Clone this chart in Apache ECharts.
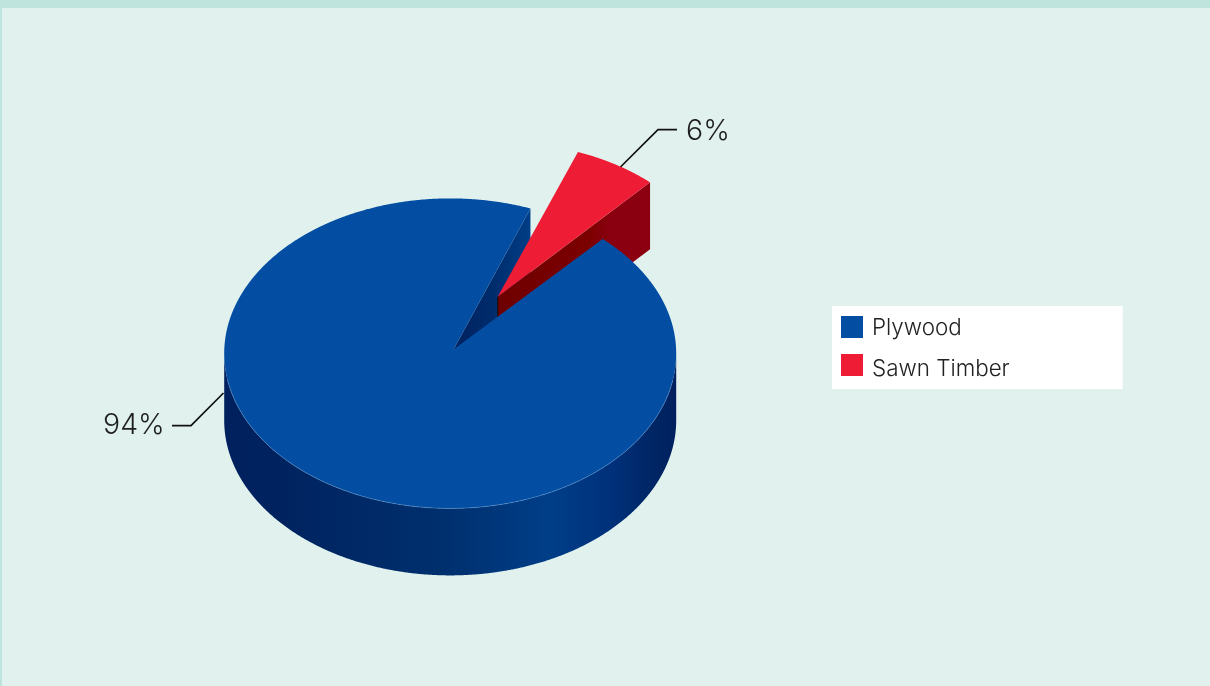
<!DOCTYPE html>
<html>
<head>
<meta charset="utf-8">
<style>
html,body{margin:0;padding:0;width:1210px;height:686px;overflow:hidden;background:#BFE3DD}
#bg{position:absolute;left:2px;top:8px;right:0;bottom:0;background:#E1F2EE}
#chart{position:absolute;left:0;top:0;width:1210px;height:686px}
</style>
<script src="https://cdn.jsdelivr.net/npm/echarts@6/dist/echarts.min.js"></script>
</head>
<body>
<div id="bg"></div>
<div id="chart"></div>
<script>
var categories = ['Plywood', 'Sawn Timber'];
var shareValues = [94, 6];
var seriesColors = ['#034EA2', '#EF1C35'];

var FONT = 'Inter, "Noto Sans", sans-serif';
var pie = { cx: 450.2, cy: 353.4, rx: 226, ry: 155, depth: 67, firstAngle: 20.8 };
var plyApexOffset = [3.3, -3.9];
var timberOffset = [47.5, -56.6];
var total = shareValues[0] + shareValues[1];
var timberSpan = shareValues[1] / total * 360;
var a0 = pie.firstAngle, a1 = a0 + timberSpan;

function pt(cx, cy, deg, dy) {
  var r = deg * Math.PI / 180;
  return [cx + pie.rx * Math.sin(r), cy - pie.ry * Math.cos(r) + (dy || 0)];
}
function arc(cx, cy, from, to, dy) {
  var out = [], n = Math.max(2, Math.ceil(Math.abs(to - from) * 4));
  for (var i = 0; i <= n; i++) out.push(pt(cx, cy, from + (to - from) * i / n, dy));
  return out;
}
function grad(stops) {
  return new echarts.graphic.LinearGradient(0, 0, 1, 0, stops.map(function (s) {
    return { offset: s[0], color: s[1] };
  }));
}
function poly(points, fill, z2) {
  return { type: 'polygon', z2: z2, shape: { points: points }, style: { fill: fill }, silent: true };
}
function leader(points) {
  return { type: 'polyline', z2: 0, shape: { points: points }, silent: true,
    style: { stroke: '#111', lineWidth: 1.7, fill: null } };
}
function label(text, x, y) {
  return { type: 'text', z2: 30, silent: true, style: {
    text: text, x: x, y: y, fill: '#1f1f1f', verticalAlign: 'middle', align: 'left',
    font: '300 28.5px ' + FONT } };
}

function renderPlywood() {
  var cx = pie.cx, cy = pie.cy, d = pie.depth;
  var ax = cx + plyApexOffset[0], ay = cy + plyApexOffset[1];
  var wall = arc(cx, cy, 90, 270, 0).concat(arc(cx, cy, 270, 90, d));
  var p = pt(cx, cy, a0);
  var inner = [[ax, ay], p, [p[0], p[1] + d], [ax, ay + d]];
  var top = [[ax, ay]].concat(arc(cx, cy, a1, a0 + 360, 0));
  return { type: 'group', children: [
    leader([[223.5, 393], [191, 425.7], [172, 425.7]]),
    poly(wall, grad([[0, '#00205E'], [0.12, '#00235F'], [0.5, '#00306F'], [0.72, '#003E88'], [0.86, '#00307A'], [0.94, '#002766'], [1, '#00205E']]), 2),
    poly(inner, grad([[0, '#00205E'], [0.5, '#002C6C'], [1, '#003E86']]), 3),
    poly(top, seriesColors[0], 20),
    { type: 'polyline', z2: 21, silent: true, shape: { points: arc(cx, cy, 100, 260, 0) },
      style: { stroke: 'rgba(110,160,215,0.6)', lineWidth: 0.8, fill: null } },
    label(Math.round(shareValues[0] / total * 100) + '%', 103, 425.5)
  ] };
}
function renderTimber() {
  var cx = pie.cx + timberOffset[0], cy = pie.cy + timberOffset[1], d = pie.depth;
  var p = pt(cx, cy, a1);
  var wall = [[cx, cy], p, [p[0], p[1] + d], [cx, cy + d]];
  var top = [[cx, cy]].concat(arc(cx, cy, a0, a1, 0));
  return { type: 'group', children: [
    leader([[620.5, 167], [658, 129.7], [677, 129.7]]),
    poly(wall, grad([[0, '#6E0000'], [0.6, '#7C0000'], [0.75, '#8A0010'], [1, '#8C0011']]), 5),
    { type: 'line', z2: 6, silent: true, shape: { x1: cx, y1: cy, x2: cx, y2: cy + 21 },
      style: { stroke: '#111', lineWidth: 1 } },
    poly(top, seriesColors[1], 7),
    label(Math.round(shareValues[1] / total * 100) + '%', 686, 131)
  ] };
}

var chart = echarts.init(document.getElementById('chart'), null, { renderer: 'canvas' });
var legendRich = { fontFamily: FONT, fontWeight: 300, fontSize: 22.4, color: '#222' };
chart.setOption({
  backgroundColor: 'transparent',
  animation: false,
  tooltip: { show: false },
  legend: {
    show: true, orient: 'vertical', left: 832, top: 306,
    data: categories, icon: 'rect', itemWidth: 22, itemHeight: 22, itemGap: 15,
    backgroundColor: '#FFFFFF', borderRadius: 0,
    padding: [10, 113, 9, 9], selectedMode: false,
    formatter: function (name) { return name === categories[1] ? '{low|' + name + '}' : name; },
    textStyle: { fontFamily: FONT, fontWeight: 300, fontSize: 22.4, color: '#222', padding: [2, 0, 0, 4],
      rich: { low: Object.assign({ padding: [6, 0, 0, 0] }, legendRich) } }
  },
  series: [
    { type: 'custom', name: categories[0], coordinateSystem: 'none', clip: false,
      itemStyle: { color: seriesColors[0] }, data: [shareValues[0]], renderItem: renderPlywood },
    { type: 'custom', name: categories[1], coordinateSystem: 'none', clip: false,
      itemStyle: { color: seriesColors[1] }, data: [shareValues[1]], renderItem: renderTimber }
  ]
});
</script>
</body>
</html>
